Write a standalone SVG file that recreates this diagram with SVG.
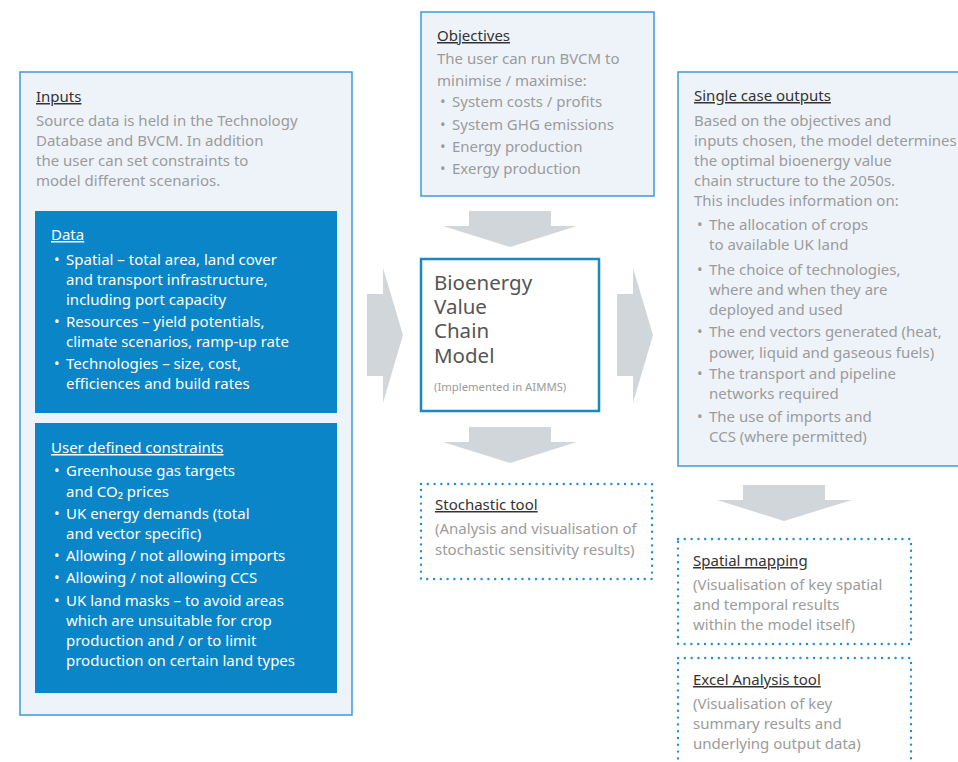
<svg xmlns="http://www.w3.org/2000/svg" width="958" height="762" viewBox="0 0 958 762">
<style>
text{font-family:"Noto Sans","Open Sans","Liberation Sans",sans-serif;font-size:15px}
.panel{fill:#eef3fa;stroke:#3d9ad8;stroke-width:1.5}
.blue{fill:#0a85c7}
.dots{fill:none;stroke:#1f8fd3;stroke-width:2.4;stroke-dasharray:0 6.8;stroke-linecap:round}
.t{fill:#333;text-decoration:underline}
.g{fill:#9b9b9b}
.w{fill:#fff}
.wt{fill:#fff;text-decoration:underline}
.arr{fill:#d1d6db}
.big{fill:#555;font-size:20.5px}
</style>
<rect width="958" height="762" fill="#fff"/>
<g id="connectors">
<polygon class="arr" points="367,294 383,294 383,268 403,335 383,403 383,376 367,376"/>
<polygon class="arr" points="617,294 633,294 633,268 653,335 633,403 633,376 617,376"/>
<polygon class="arr" points="469,211 551,211 551,226 577,226 510,247 443,226 469,226"/>
<polygon class="arr" points="469,427 551,427 551,442 577,442 510,463 443,442 469,442"/>
<polygon class="arr" points="743,485 825,485 825,500 852,500 784,521 717,500 743,500"/>
</g>
<g id="inputs">
<rect class="panel" x="20" y="72" width="332" height="643"/>
<text class="t" x="36" y="102">Inputs</text>
<text class="g" x="36" y="126">Source data is held in the Technology</text>
<text class="g" x="36" y="146">Database and BVCM. In addition</text>
<text class="g" x="36" y="166">the user can set constraints to</text>
<text class="g" x="36" y="186">model different scenarios.</text>
</g>
<g id="data">
<rect class="blue" x="35" y="211" width="302" height="202"/>
<text class="wt" x="51" y="240">Data</text>
<text class="w" x="54" y="265">•</text><text class="w" x="66" y="265">Spatial – total area, land cover</text>
<text class="w" x="66" y="285">and transport infrastructure,</text>
<text class="w" x="66" y="305">including port capacity</text>
<text class="w" x="54" y="327">•</text><text class="w" x="66" y="327">Resources – yield potentials,</text>
<text class="w" x="66" y="347">climate scenarios, ramp-up rate</text>
<text class="w" x="54" y="369">•</text><text class="w" x="66" y="369">Technologies – size, cost,</text>
<text class="w" x="66" y="389">efficiences and build rates</text>
</g>
<g id="constraints">
<rect class="blue" x="35" y="423" width="302" height="270"/>
<text class="wt" x="51" y="453">User defined constraints</text>
<text class="w" x="54" y="476">•</text><text class="w" x="66" y="476">Greenhouse gas targets</text>
<text class="w" x="66" y="497">and CO₂ prices</text>
<text class="w" x="54" y="519">•</text><text class="w" x="66" y="519">UK energy demands (total</text>
<text class="w" x="66" y="539">and vector specific)</text>
<text class="w" x="54" y="561">•</text><text class="w" x="66" y="561">Allowing / not allowing imports</text>
<text class="w" x="54" y="583">•</text><text class="w" x="66" y="583">Allowing / not allowing CCS</text>
<text class="w" x="54" y="606">•</text><text class="w" x="66" y="606">UK land masks – to avoid areas</text>
<text class="w" x="66" y="626">which are unsuitable for crop</text>
<text class="w" x="66" y="646">production and / or to limit</text>
<text class="w" x="66" y="666">production on certain land types</text>
</g>
<g id="objectives">
<rect class="panel" x="421" y="12" width="233" height="184"/>
<text class="t" x="437" y="41">Objectives</text>
<text class="g" x="437" y="64">The user can run BVCM to</text>
<text class="g" x="437" y="86">minimise / maximise:</text>
<text class="g" x="440" y="107">•</text><text class="g" x="452" y="107">System costs / profits</text>
<text class="g" x="440" y="130">•</text><text class="g" x="452" y="130">System GHG emissions</text>
<text class="g" x="440" y="152">•</text><text class="g" x="452" y="152">Energy production</text>
<text class="g" x="440" y="174">•</text><text class="g" x="452" y="174">Exergy production</text>
</g>
<g id="bvcm">
<rect x="421" y="259" width="178" height="152" fill="#fff" stroke="#1a87c9" stroke-width="2.5"/>
<text class="big" x="434" y="290">Bioenergy</text>
<text class="big" x="434" y="314">Value</text>
<text class="big" x="434" y="338">Chain</text>
<text class="big" x="434" y="363">Model</text>
<text class="g" x="434" y="391" style="font-size:11.3px">(Implemented in AIMMS)</text>
</g>
<g id="stochastic">
<rect class="dots" x="421" y="484" width="231" height="95"/>
<text class="t" x="435" y="510">Stochastic tool</text>
<text class="g" x="435" y="534">(Analysis and visualisation of</text>
<text class="g" x="435" y="555">stochastic sensitivity results)</text>
</g>
<g id="outputs">
<rect class="panel" x="678" y="72" width="290" height="394"/>
<text class="t" x="694" y="101">Single case outputs</text>
<text class="g" x="694" y="126">Based on the objectives and</text>
<text class="g" x="694" y="146">inputs chosen, the model determines</text>
<text class="g" x="694" y="166">the optimal bioenergy value</text>
<text class="g" x="694" y="186">chain structure to the 2050s.</text>
<text class="g" x="694" y="206">This includes information on:</text>
<text class="g" x="697" y="230">•</text><text class="g" x="709" y="230">The allocation of crops</text>
<text class="g" x="709" y="250">to available UK land</text>
<text class="g" x="697" y="275">•</text><text class="g" x="709" y="275">The choice of technologies,</text>
<text class="g" x="709" y="295">where and when they are</text>
<text class="g" x="709" y="315">deployed and used</text>
<text class="g" x="697" y="337">•</text><text class="g" x="709" y="337">The end vectors generated (heat,</text>
<text class="g" x="709" y="358">power, liquid and gaseous fuels)</text>
<text class="g" x="697" y="379">•</text><text class="g" x="709" y="379">The transport and pipeline</text>
<text class="g" x="709" y="399">networks required</text>
<text class="g" x="697" y="422">•</text><text class="g" x="709" y="422">The use of imports and</text>
<text class="g" x="709" y="442">CCS (where permitted)</text>
</g>
<g id="spatial">
<rect class="dots" x="678" y="539" width="233" height="105"/>
<text class="t" x="693" y="566">Spatial mapping</text>
<text class="g" x="693" y="590">(Visualisation of key spatial</text>
<text class="g" x="693" y="610">and temporal results</text>
<text class="g" x="693" y="630">within the model itself)</text>
</g>
<g id="excel">
<rect class="dots" x="678" y="658" width="233" height="130"/>
<text class="t" x="693" y="685">Excel Analysis tool</text>
<text class="g" x="693" y="709">(Visualisation of key</text>
<text class="g" x="693" y="729">summary results and</text>
<text class="g" x="693" y="749">underlying output data)</text>
</g>
</svg>
